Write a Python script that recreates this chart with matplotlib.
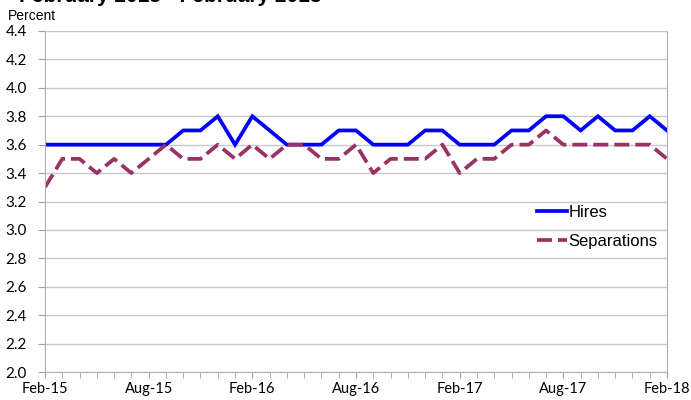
import matplotlib.pyplot as plt
import numpy as np

months = ['Feb-15', 'Mar-15', 'Apr-15', 'May-15', 'Jun-15', 'Jul-15', 'Aug-15', 'Sep-15', 'Oct-15',
          'Nov-15', 'Dec-15', 'Jan-16', 'Feb-16', 'Mar-16', 'Apr-16', 'May-16', 'Jun-16', 'Jul-16',
          'Aug-16', 'Sep-16', 'Oct-16', 'Nov-16', 'Dec-16', 'Jan-17', 'Feb-17', 'Mar-17', 'Apr-17',
          'May-17', 'Jun-17', 'Jul-17', 'Aug-17', 'Sep-17', 'Oct-17', 'Nov-17', 'Dec-17', 'Jan-18',
          'Feb-18']
hires = [3.6, 3.6, 3.6, 3.6, 3.6, 3.6, 3.6, 3.6, 3.7, 3.7, 3.8, 3.6, 3.8, 3.7, 3.6, 3.6, 3.6, 3.7,
         3.7, 3.6, 3.6, 3.6, 3.7, 3.7, 3.6, 3.6, 3.6, 3.7, 3.7, 3.8, 3.8, 3.7, 3.8, 3.7, 3.7, 3.8, 3.7]
separations = [3.3, 3.5, 3.5, 3.4, 3.5, 3.4, 3.5, 3.6, 3.5, 3.5, 3.6, 3.5, 3.6, 3.5, 3.6, 3.6, 3.5,
               3.5, 3.6, 3.4, 3.5, 3.5, 3.5, 3.6, 3.4, 3.5, 3.5, 3.6, 3.6, 3.7, 3.6, 3.6, 3.6, 3.6,
               3.6, 3.6, 3.5]

plt.rcParams['font.family'] = ['Liberation Sans', 'DejaVu Sans']

x = np.arange(len(months))
fig = plt.figure(figsize=(6.91, 4.0), dpi=100)
ax = fig.add_axes([0.0651, 0.07, 0.9002, 0.8525])

ax.plot(x, hires, color='#0000FF', lw=2.7, label='Hires', solid_joinstyle='miter')
ax.plot(x, separations, color='#993366', lw=2.7, ls=(0, (4.0, 1.6)), label='Separations')

ax.set_xlim(0, 36)
ax.set_ylim(2.0, 4.4)
ax.set_yticks(np.arange(2.0, 4.41, 0.2))
ax.set_yticklabels([f'{v:.1f}' for v in np.arange(2.0, 4.41, 0.2)], fontsize=11, family='Lato')
ax.set_xticks(x[::6])
ax.set_xticklabels(months[::6], fontsize=10.5, family='Lato')
ax.set_xticks(x, minor=True)
ax.tick_params(axis='x', which='both', direction='out', length=4, color='#a0a0a0', pad=3)
ax.tick_params(axis='y', direction='out', length=5, color='#a0a0a0', pad=8)
ax.grid(axis='y', color='#c8c8c8', lw=1)
ax.set_axisbelow(True)
for s in ['left', 'bottom', 'right']:
    ax.spines[s].set_color('#b0b0b0')
ax.spines['top'].set_color('#c8c8c8')

ax.legend(loc='upper left', bbox_to_anchor=(0.781, 0.51), frameon=False, fontsize=12,
          handlelength=1.75, handletextpad=0.1, labelspacing=0.85, borderaxespad=0)

fig.text(0.012, 0.951, 'Percent', fontsize=10)
fig.text(0.028, 0.994, 'February 2015 - February 2018', fontsize=15, fontweight='bold',
         va='baseline')

plt.savefig('out.png', dpi=100)
